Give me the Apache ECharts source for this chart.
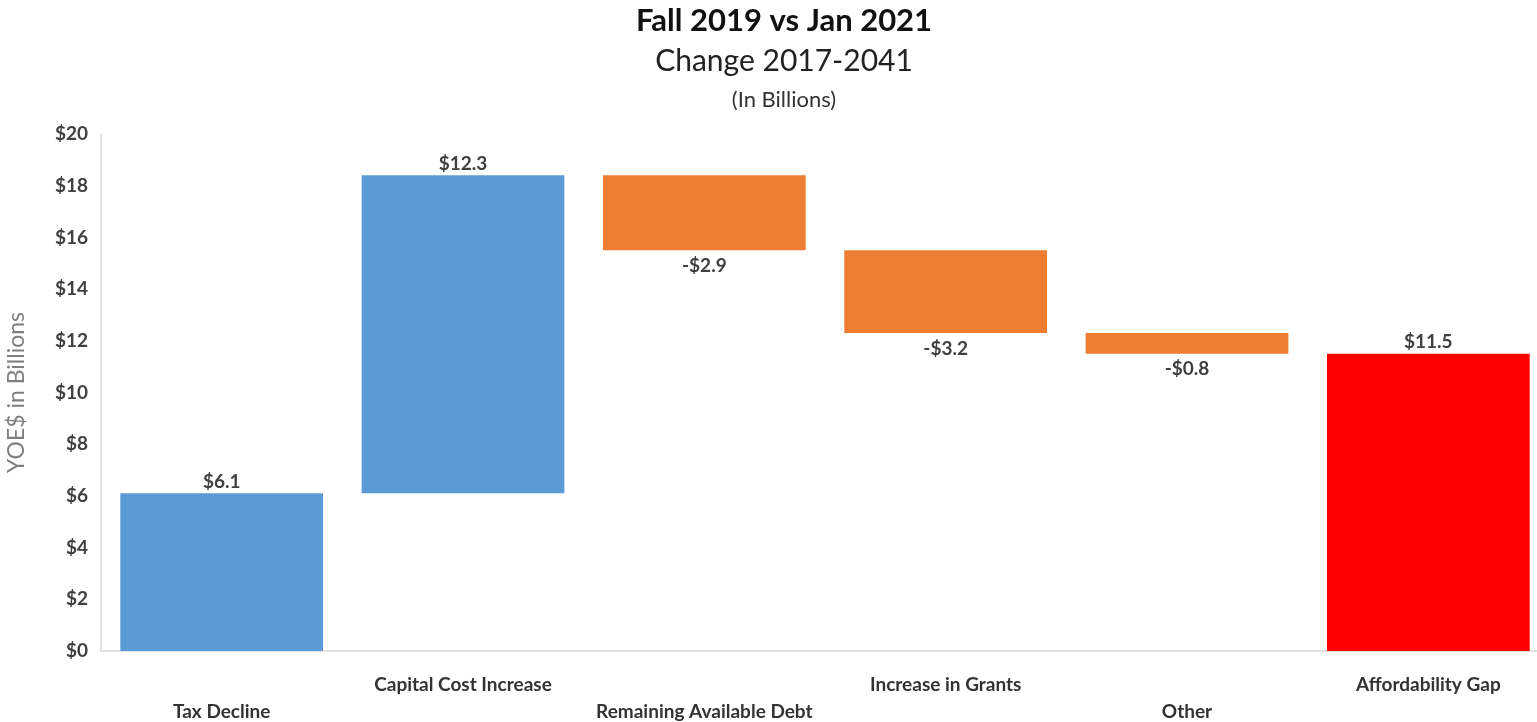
<!DOCTYPE html>
<html>
<head>
<meta charset="utf-8">
<script src="https://cdn.jsdelivr.net/npm/echarts@6/dist/echarts.min.js"></script>
<style>
html,body{margin:0;padding:0;background:#fff;}
#c{width:1537px;height:722px;}
</style>
</head>
<body>
<div id="c"></div>
<script>
const categories = ['Tax Decline', 'Capital Cost Increase', 'Remaining Available Debt', 'Increase in Grants', 'Other', 'Affordability Gap'];
const changes = [6.1, 12.3, -2.9, -3.2, -0.8, 11.5];
const isTotal = [false, false, false, false, false, true];
const barColors = ['#5B9BD5', '#5B9BD5', '#ED7D31', '#ED7D31', '#ED7D31', '#FF0000'];
const yTicks = [0, 2, 4, 6, 8, 10, 12, 14, 16, 18, 20];

// build waterfall base/height from data
const base = [], heights = [];
let running = 0;
changes.forEach((v, i) => {
  if (isTotal[i]) { base.push(0); heights.push(v); running = v; }
  else if (v >= 0) { base.push(running); heights.push(v); running += v; }
  else { running += v; base.push(running); heights.push(-v); }
});

const fmt = v => (v < 0 ? '-$' : '$') + Math.abs(v).toFixed(1);
const font = 'Lato, "Open Sans", sans-serif';

const chart = echarts.init(document.getElementById('c'));
chart.setOption({
  animation: false,
  title: [
    {text: 'Fall 2019 vs Jan 2021', left: 779, top: 0, textAlign: 'center',
     textStyle: {fontFamily: font, fontSize: 31, fontWeight: 'bold', color: '#111'}},
    {text: 'Change 2017-2041', left: 779, top: 41, textAlign: 'center',
     textStyle: {fontFamily: font, fontSize: 30, fontWeight: 'normal', color: '#222'}},
    {text: '(In Billions)', left: 779, top: 84, textAlign: 'center',
     textStyle: {fontFamily: font, fontSize: 22, fontWeight: 'normal', color: '#333'}}
  ],
  grid: {left: 101, top: 134, width: 1448, height: 517, containLabel: false, outerBoundsMode: 'none'},
  xAxis: {
    type: 'category', data: categories,
    axisLine: {lineStyle: {color: '#d9d9d9', width: 1.5}},
    axisTick: {show: false},
    axisLabel: {
      interval: 0, margin: 20, lineHeight: 27,
      fontFamily: font, fontSize: 19, fontWeight: 'bold', color: '#333',
      formatter: (v, i) => (i % 2 === 0 ? '\n' + v : v)
    }
  },
  yAxis: {
    type: 'value', min: 0, max: 20, interval: 2,
    name: 'YOE$ in Billions', nameLocation: 'middle', nameGap: 73,
    nameTextStyle: {fontFamily: font, fontSize: 23, color: '#7f7f7f'},
    axisLine: {show: true, lineStyle: {color: '#d9d9d9', width: 1.5}},
    axisTick: {show: false},
    splitLine: {show: false},
    axisLabel: {fontFamily: font, fontSize: 19, fontWeight: 'bold', color: '#404040', margin: 13,
      formatter: v => '$' + v}
  },
  series: [
    {type: 'bar', stack: 'w', data: base, itemStyle: {color: 'transparent'}, silent: true, barWidth: '84%'},
    {type: 'bar', stack: 'w', barWidth: '84%',
     data: heights.map((h, i) => ({
       value: h,
       itemStyle: {color: barColors[i]},
       label: {show: true, position: changes[i] < 0 ? 'bottom' : 'top',
         distance: changes[i] < 0 ? 6 : 2,
         formatter: () => fmt(changes[i]),
         fontFamily: font, fontSize: 19, fontWeight: 'bold', color: '#404040'}
     }))}
  ]
});
</script>
</body>
</html>
